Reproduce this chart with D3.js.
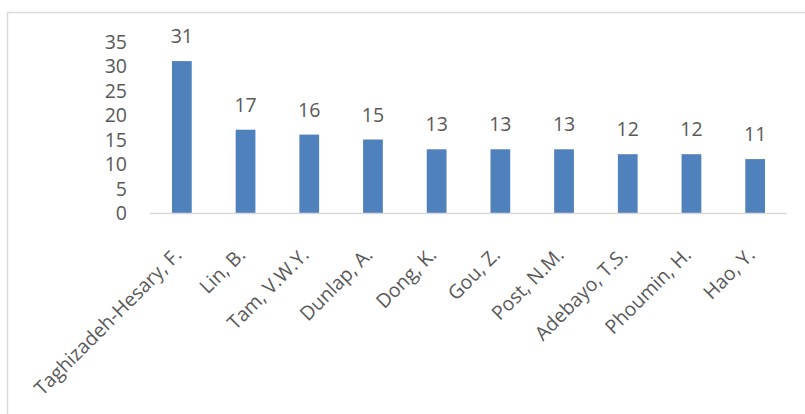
<!DOCTYPE html>
<html>
<head>
<meta charset="utf-8">
<script src="https://cdn.jsdelivr.net/npm/d3@7"></script>
<style>
  body { margin: 0; background: #fff; }
  text { font-family: "Open Sans", sans-serif; fill: #595959; }
</style>
</head>
<body>
<script>
// authors and their counts
var authors = ['Taghizadeh-Hesary, F.', 'Lin, B.', 'Tam, V.W.Y.', 'Dunlap, A.', 'Dong, K.',
  'Gou, Z.', 'Post, N.M.', 'Adebayo, T.S.', 'Phoumin, H.', 'Hao, Y.'];
var counts = [31, 17, 16, 15, 13, 13, 13, 12, 12, 11];
var yTicks = [0, 5, 10, 15, 20, 25, 30, 35];

var width = 805;
var height = 414;

var svg = d3.select('body').append('svg')
  .attr('width', width)
  .attr('height', height);

// chart border
svg.append('rect')
  .attr('x', 7.5).attr('y', 12.5)
  .attr('width', 810).attr('height', 420)
  .attr('fill', 'none')
  .attr('stroke', '#d9d9d9')
  .attr('stroke-width', 1.5);

var x = d3.scaleBand()
  .domain(authors)
  .range([150, 787])
  .paddingInner(0.69)
  .paddingOuter(0.345);

var y = d3.scaleLinear()
  .domain([0, 35])
  .range([213, 41.5]);

// y tick labels (no axis line)
svg.selectAll('.ytick').data(yTicks)
  .enter()
  .append('text')
  .attr('class', 'ytick')
  .attr('x', 127)
  .attr('y', function (d) { return y(d); })
  .attr('dy', '0.36em')
  .attr('text-anchor', 'end')
  .style('font-size', '19.5px')
  .text(function (d) { return d; });

// bars
svg.selectAll('.bar').data(counts)
  .enter()
  .append('rect')
  .attr('class', 'bar')
  .attr('x', function (d, i) { return x(authors[i]); })
  .attr('y', function (d) { return y(d); })
  .attr('width', x.bandwidth())
  .attr('height', function (d) { return y(0) - y(d); })
  .attr('fill', '#4f81bd');

// baseline
svg.append('line')
  .attr('x1', 150).attr('x2', 787)
  .attr('y1', y(0) + 0.5).attr('y2', y(0) + 0.5)
  .attr('stroke', '#d9d9d9')
  .attr('stroke-width', 1.5);

// value labels
svg.selectAll('.val').data(counts)
  .enter()
  .append('text')
  .attr('class', 'val')
  .attr('x', function (d, i) { return x(authors[i]) + x.bandwidth() / 2; })
  .attr('y', function (d) { return y(d) - 18; })
  .attr('text-anchor', 'middle')
  .style('font-size', '19.5px')
  .text(function (d) { return d; });

// category labels, rotated
svg.selectAll('.cat').data(authors)
  .enter()
  .append('text')
  .attr('class', 'cat')
  .attr('transform', function (d) {
    var cx = x(d) + x.bandwidth() / 2 + 1;
    return 'translate(' + cx + ',256) rotate(-45)';
  })
  .attr('text-anchor', 'end')
  .style('font-size', '19.5px')
  .text(function (d) { return d; });
</script>
</body>
</html>
